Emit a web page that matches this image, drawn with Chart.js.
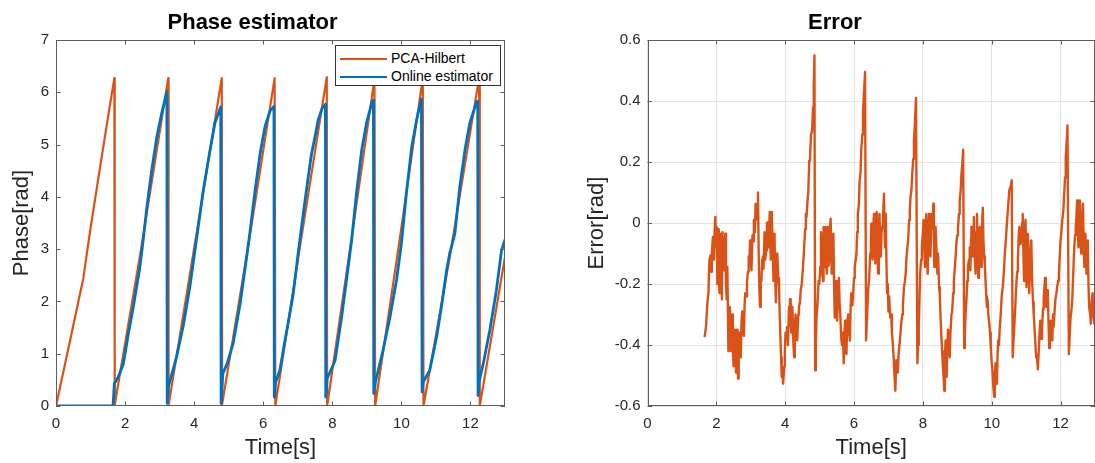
<!DOCTYPE html>
<html>
<head>
<meta charset="utf-8">
<script src="https://cdn.jsdelivr.net/npm/chart.js@4.4.1/dist/chart.umd.min.js"></script>
<style>
  html, body { margin: 0; padding: 0; background: #fff; }
  body { width: 1095px; height: 463px; position: relative; overflow: hidden; font-family: "Liberation Sans", Arial, sans-serif; }
  .panel { position: absolute; top: 0; }
  #legend { position: absolute; left: 335px; top: 45px; width: 164px; height: 39px; border: 1px solid #333; background: #fff; font-size: 14px; color: #000; }
  #legend .row { position: absolute; left: 4px; height: 18px; line-height: 18px; white-space: nowrap; }
  #legend .sw { display: inline-block; width: 47px; vertical-align: middle; margin-right: 4px; }
</style>
</head>
<body>
<div class="panel" style="left:0px"><canvas id="phase" width="530" height="463"></canvas></div>
<div class="panel" style="left:575px"><canvas id="err" width="520" height="463"></canvas></div>
<div id="legend"></div>
<script>
// PCA-Hilbert phase (orange)
const pcaTime = [0, 0.40, 0.79, 0.99, 1.28, 1.50, 1.69, 1.70, 2.45, 3.25, 3.26, 4.02, 4.80, 4.81, 5.58, 6.33,
  6.35, 7.10, 7.84, 7.85, 8.55, 9.22, 9.24, 9.95, 10.62, 10.64, 11.40, 12.25, 12.27, 13.00];
const pcaPhase = [0, 1.23, 2.44, 3.36, 4.58, 5.50, 6.27, 0.02, 2.95, 6.27, 0.02, 3.10, 6.27, 0.03, 3.12, 6.27,
  0.00, 3.20, 6.29, 0.00, 3.17, 6.25, 0.00, 3.18, 6.28, 0.00, 2.85, 6.27, 0.00, 2.85];

// online estimator phase (blue)
const onlineTime = [0, 1.65, 1.69, 1.80, 1.95, 2.10, 2.24, 2.43, 2.53, 2.63, 2.77, 2.92, 3.06, 3.21,
  3.22, 3.25, 3.49, 3.69, 3.88, 4.07, 4.27, 4.46, 4.60, 4.77,
  4.78, 4.83, 4.95, 5.13, 5.33, 5.52, 5.62, 5.76, 5.91, 6.05, 6.20, 6.31,
  6.32, 6.36, 6.48, 6.63, 6.72, 6.87, 7.01, 7.16, 7.29, 7.40, 7.50, 7.59, 7.71, 7.80,
  7.81, 7.85, 8.08, 8.27, 8.41, 8.56, 8.70, 8.85, 8.99, 9.14, 9.19,
  9.20, 9.24, 9.47, 9.67, 9.86, 10.00, 10.15, 10.30, 10.44, 10.58,
  10.60, 10.63, 10.82, 11.02, 11.16, 11.31, 11.40, 11.55, 11.69, 11.84, 11.98, 12.18, 12.21,
  12.22, 12.25, 12.37, 12.56, 12.75, 12.90, 13.00];
const onlinePhase = [0, 0, 0.43, 0.55, 0.81, 1.40, 1.90, 2.66, 3.20, 3.80, 4.50, 5.15, 5.60, 6.01,
  0.05, 0.36, 0.94, 1.55, 2.30, 3.20, 4.15, 4.89, 5.41, 5.72,
  0.05, 0.62, 0.80, 1.20, 1.95, 2.85, 3.35, 4.10, 4.83, 5.34, 5.65, 5.73,
  0.17, 0.46, 0.68, 1.26, 1.58, 2.15, 2.92, 3.68, 4.32, 4.83, 5.15, 5.47, 5.70, 5.77,
  0.17, 0.52, 0.87, 1.70, 2.41, 3.17, 4.07, 4.89, 5.41, 5.79, 5.85,
  0.24, 0.43, 1.07, 1.70, 2.41, 3.10, 4.10, 4.96, 5.47, 5.87,
  0.27, 0.46, 0.68, 1.32, 1.90, 2.60, 2.92, 3.30, 4.19, 4.89, 5.41, 5.82, 5.83,
  0.20, 0.46, 0.81, 1.45, 2.21, 2.98, 3.18];

// phase error [time, rad]
const errorSeries = [
  [1.66, -0.374], [1.70, -0.34], [1.74, -0.26], [1.77, -0.23], [1.80, -0.12], [1.83, -0.106], [1.85, -0.16], [1.87, -0.10],
  [1.90, -0.046], [1.93, -0.12], [1.95, -0.03], [1.97, 0.02], [1.99, -0.08], [2.01, -0.013], [2.03, -0.20], [2.04, -0.144],
  [2.05, -0.02], [2.07, -0.16], [2.09, -0.23], [2.11, -0.05], [2.13, -0.035], [2.15, -0.21], [2.16, -0.25], [2.18, -0.03],
  [2.20, -0.12], [2.22, -0.05], [2.23, -0.155], [2.26, -0.035], [2.28, -0.20], [2.30, -0.25], [2.32, -0.144], [2.35, -0.42],
  [2.37, -0.33], [2.39, -0.275], [2.41, -0.38], [2.42, -0.42], [2.44, -0.32], [2.46, -0.30], [2.48, -0.40], [2.50, -0.47],
  [2.52, -0.36], [2.54, -0.35], [2.56, -0.44], [2.57, -0.49], [2.59, -0.38], [2.60, -0.35], [2.62, -0.47], [2.63, -0.51],
  [2.65, -0.40], [2.67, -0.36], [2.69, -0.44], [2.71, -0.43], [2.73, -0.33], [2.75, -0.29], [2.78, -0.36], [2.80, -0.37],
  [2.82, -0.27], [2.84, -0.23], [2.87, -0.24], [2.89, -0.19], [2.92, -0.16], [2.94, -0.11], [2.96, -0.13], [2.98, -0.057],
  [3.00, -0.12], [3.02, -0.155], [3.05, -0.04], [3.07, -0.06], [3.09, 0.01], [3.12, -0.03], [3.14, 0.063], [3.17, 0.05],
  [3.19, 0.01], [3.21, 0.10], [3.23, -0.10], [3.25, -0.22], [3.27, -0.275], [3.29, -0.18], [3.31, -0.19], [3.33, -0.12],
  [3.35, -0.11], [3.37, -0.15], [3.40, -0.03], [3.42, -0.12], [3.45, -0.09], [3.47, 0.00], [3.50, 0.003], [3.52, -0.08],
  [3.55, 0.036], [3.57, -0.05], [3.58, -0.12], [3.60, 0.02], [3.61, 0.036], [3.63, -0.05], [3.64, -0.10], [3.66, -0.19],
  [3.68, -0.06], [3.69, -0.035], [3.71, -0.18], [3.73, -0.26], [3.75, -0.12], [3.77, -0.10], [3.80, -0.18], [3.82, -0.21],
  [3.85, -0.34], [3.88, -0.44], [3.90, -0.505], [3.92, -0.48], [3.94, -0.527], [3.97, -0.47], [3.99, -0.42], [4.01, -0.36],
  [4.04, -0.38], [4.06, -0.34], [4.08, -0.40], [4.11, -0.275], [4.13, -0.30], [4.14, -0.25], [4.16, -0.33], [4.18, -0.36],
  [4.20, -0.30], [4.21, -0.275], [4.24, -0.40], [4.26, -0.44], [4.28, -0.34], [4.30, -0.30], [4.33, -0.36], [4.35, -0.385],
  [4.38, -0.30], [4.40, -0.275], [4.43, -0.26], [4.45, -0.22], [4.48, -0.20], [4.51, -0.155], [4.53, -0.12], [4.55, -0.08],
  [4.58, -0.02], [4.60, 0.03], [4.62, 0.02], [4.65, 0.074], [4.67, 0.10], [4.70, 0.205], [4.72, 0.21], [4.75, 0.29],
  [4.78, 0.30], [4.81, 0.38], [4.83, 0.45], [4.85, 0.55], [4.87, -0.483], [4.89, -0.40], [4.91, -0.31], [4.94, -0.26],
  [4.97, -0.19], [4.99, -0.20], [5.02, -0.144], [5.04, -0.03], [5.05, -0.046], [5.07, -0.16], [5.10, -0.19], [5.11, -0.02],
  [5.12, -0.013], [5.14, -0.144], [5.15, -0.05], [5.17, -0.013], [5.19, -0.13], [5.21, -0.166], [5.23, -0.03], [5.24, -0.013],
  [5.26, -0.14], [5.28, -0.12], [5.30, -0.02], [5.32, 0.014], [5.34, -0.10], [5.35, -0.166], [5.38, -0.04], [5.40, -0.035],
  [5.42, -0.20], [5.44, -0.31], [5.46, -0.20], [5.48, -0.19], [5.50, -0.30], [5.51, -0.32], [5.54, -0.20], [5.56, -0.18],
  [5.58, -0.26], [5.60, -0.30], [5.63, -0.38], [5.65, -0.40], [5.68, -0.36], [5.70, -0.46], [5.72, -0.36], [5.74, -0.32],
  [5.76, -0.40], [5.78, -0.43], [5.80, -0.33], [5.83, -0.30], [5.86, -0.36], [5.88, -0.385], [5.90, -0.28], [5.92, -0.23],
  [5.95, -0.27], [5.97, -0.24], [6.00, -0.18], [6.02, -0.144], [6.05, -0.12], [6.07, -0.10], [6.09, -0.03], [6.11, 0.03],
  [6.14, 0.06], [6.16, 0.13], [6.19, 0.17], [6.21, 0.24], [6.24, 0.29], [6.26, 0.36], [6.29, 0.43], [6.32, 0.495],
  [6.35, -0.385], [6.38, -0.30], [6.41, -0.22], [6.44, -0.18], [6.47, -0.10], [6.49, -0.05], [6.50, -0.002], [6.52, -0.09],
  [6.54, -0.12], [6.56, -0.01], [6.58, 0.03], [6.60, -0.08], [6.62, -0.133], [6.64, -0.02], [6.66, 0.036], [6.68, -0.09],
  [6.70, -0.166], [6.72, -0.03], [6.74, 0.03], [6.76, -0.07], [6.78, -0.11], [6.80, -0.03], [6.82, -0.013], [6.84, 0.02],
  [6.87, 0.096], [6.89, -0.04], [6.90, -0.08], [6.92, 0.03], [6.94, -0.12], [6.96, -0.23], [6.98, -0.20], [7.00, -0.29],
  [7.02, -0.24], [7.05, -0.31], [7.08, -0.30], [7.10, -0.36], [7.13, -0.40], [7.15, -0.44], [7.17, -0.49], [7.20, -0.55],
  [7.23, -0.45], [7.25, -0.47], [7.27, -0.49], [7.30, -0.42], [7.32, -0.40], [7.35, -0.36], [7.37, -0.33], [7.40, -0.30],
  [7.42, -0.27], [7.45, -0.21], [7.48, -0.19], [7.50, -0.166], [7.52, -0.12], [7.54, -0.09], [7.57, -0.06], [7.60, 0.01],
  [7.62, 0.04], [7.64, 0.085], [7.67, 0.11], [7.69, 0.16], [7.72, 0.21], [7.74, 0.27], [7.77, 0.33], [7.80, 0.41],
  [7.84, -0.46], [7.86, -0.40], [7.88, -0.33], [7.90, -0.26], [7.92, -0.166], [7.95, -0.12], [7.97, -0.08], [8.00, -0.03],
  [8.02, 0.01], [8.04, -0.08], [8.06, -0.144], [8.08, -0.02], [8.10, 0.03], [8.12, -0.10], [8.14, -0.166], [8.16, -0.03],
  [8.18, 0.03], [8.20, -0.06], [8.22, -0.11], [8.24, -0.01], [8.26, 0.03], [8.28, -0.02], [8.30, 0.063], [8.32, -0.05],
  [8.33, -0.144], [8.35, -0.05], [8.37, -0.013], [8.40, -0.10], [8.42, -0.166], [8.44, -0.10], [8.47, -0.21], [8.49, -0.23],
  [8.51, -0.30], [8.54, -0.38], [8.56, -0.42], [8.58, -0.47], [8.60, -0.50], [8.62, -0.55], [8.64, -0.44], [8.66, -0.385],
  [8.68, -0.46], [8.69, -0.505], [8.71, -0.40], [8.73, -0.35], [8.76, -0.42], [8.78, -0.44], [8.80, -0.36], [8.83, -0.30],
  [8.85, -0.29], [8.88, -0.23], [8.90, -0.19], [8.93, -0.144], [8.95, -0.11], [8.98, -0.057], [9.00, -0.04], [9.02, -0.013],
  [9.05, 0.03], [9.07, 0.074], [9.10, 0.11], [9.12, 0.16], [9.15, 0.20], [9.17, 0.24], [9.20, -0.41], [9.22, -0.36],
  [9.24, -0.30], [9.27, -0.24], [9.29, -0.19], [9.31, -0.14], [9.34, -0.12], [9.36, -0.08], [9.38, -0.155], [9.40, -0.05],
  [9.41, -0.013], [9.43, -0.09], [9.45, -0.11], [9.47, -0.01], [9.48, 0.02], [9.50, -0.10], [9.53, -0.166], [9.55, -0.03],
  [9.57, 0.03], [9.59, -0.10], [9.61, -0.18], [9.63, -0.06], [9.65, -0.013], [9.67, -0.09], [9.69, -0.144], [9.71, -0.03],
  [9.74, 0.05], [9.76, -0.06], [9.78, -0.11], [9.80, -0.14], [9.82, -0.19], [9.84, -0.24], [9.86, -0.275], [9.88, -0.25],
  [9.90, -0.30], [9.93, -0.33], [9.95, -0.36], [9.97, -0.40], [10.00, -0.46], [10.02, -0.48], [10.04, -0.527], [10.07, -0.57],
  [10.09, -0.50], [10.11, -0.46], [10.13, -0.50], [10.15, -0.527], [10.17, -0.43], [10.19, -0.385], [10.21, -0.40], [10.23, -0.35],
  [10.26, -0.30], [10.29, -0.24], [10.32, -0.21], [10.35, -0.166], [10.38, -0.10], [10.41, -0.057], [10.43, -0.02], [10.46, 0.03],
  [10.48, 0.06], [10.51, 0.107], [10.55, 0.12], [10.58, 0.14], [10.61, -0.44], [10.63, -0.39], [10.66, -0.33], [10.69, -0.26],
  [10.72, -0.19], [10.74, -0.16], [10.76, -0.12], [10.78, -0.05], [10.80, -0.013], [10.83, -0.07], [10.86, -0.057], [10.88, 0.00],
  [10.90, 0.03], [10.92, -0.10], [10.94, -0.19], [10.96, -0.05], [10.98, 0.01], [11.00, -0.12], [11.01, -0.21], [11.03, -0.08],
  [11.05, -0.035], [11.07, -0.14], [11.09, -0.23], [11.12, -0.10], [11.15, -0.057], [11.17, -0.18], [11.20, -0.26], [11.22, -0.30],
  [11.25, -0.36], [11.27, -0.40], [11.29, -0.44], [11.31, -0.43], [11.34, -0.48], [11.37, -0.41], [11.39, -0.36], [11.41, -0.32],
  [11.44, -0.38], [11.46, -0.35], [11.49, -0.28], [11.51, -0.25], [11.53, -0.21], [11.55, -0.18], [11.57, -0.24], [11.58, -0.275],
  [11.61, -0.22], [11.63, -0.23], [11.65, -0.33], [11.67, -0.41], [11.69, -0.36], [11.71, -0.32], [11.74, -0.38], [11.76, -0.385],
  [11.78, -0.30], [11.80, -0.34], [11.83, -0.28], [11.85, -0.25], [11.88, -0.23], [11.90, -0.21], [11.93, -0.19], [11.95, -0.166],
  [11.98, -0.10], [12.00, -0.057], [12.03, -0.02], [12.05, 0.01], [12.08, 0.04], [12.10, 0.085], [12.13, 0.15], [12.15, 0.216],
  [12.18, 0.27], [12.20, 0.32], [12.24, -0.43], [12.27, -0.36], [12.29, -0.31], [12.32, -0.28], [12.34, -0.25], [12.37, -0.16],
  [12.39, -0.10], [12.42, -0.04], [12.44, -0.013], [12.46, 0.02], [12.48, 0.074], [12.50, -0.02], [12.52, -0.08], [12.54, 0.03],
  [12.56, 0.074], [12.58, -0.04], [12.60, -0.10], [12.62, 0.00], [12.65, 0.063], [12.67, -0.06], [12.69, -0.144], [12.70, -0.05],
  [12.72, -0.035], [12.74, -0.12], [12.75, -0.166], [12.77, -0.08], [12.79, -0.057], [12.81, -0.20], [12.83, -0.275], [12.86, -0.30],
  [12.88, -0.33], [12.90, -0.26], [12.93, -0.23], [12.95, -0.30], [12.98, -0.33], [13.00, -0.29]
];

const ORANGE = "#D95319";
const BLUE = "#0072BD";
const AXIS = "#5e5e5e";
const TEXT = "#262626";
const FONT = "'Liberation Sans', Arial, Helvetica, sans-serif";

const pairs = (xs, ys) => xs.map((x, i) => ({ x: x, y: ys[i] }));

// MATLAB-like box with inward tick marks
const boxTicks = {
  id: "boxTicks",
  afterDraw(chart) {
    const { ctx, chartArea: a, scales: { x, y } } = chart;
    const len = 4.5;
    ctx.save();
    ctx.strokeStyle = AXIS;
    ctx.lineWidth = 1;
    ctx.strokeRect(Math.round(a.left) + 0.5, Math.round(a.top) + 0.5,
      Math.round(a.right) - Math.round(a.left) - 1, Math.round(a.bottom) - Math.round(a.top) - 1);
    ctx.beginPath();
    x.ticks.forEach(t => {
      const px = Math.round(x.getPixelForValue(t.value)) + 0.5;
      ctx.moveTo(px, a.bottom); ctx.lineTo(px, a.bottom - len);
      ctx.moveTo(px, a.top); ctx.lineTo(px, a.top + len);
    });
    y.ticks.forEach(t => {
      const py = Math.round(y.getPixelForValue(t.value)) + 0.5;
      ctx.moveTo(a.left, py); ctx.lineTo(a.left + len, py);
      ctx.moveTo(a.right, py); ctx.lineTo(a.right - len, py);
    });
    ctx.stroke();
    ctx.restore();
  }
};

function axes(opts) {
  return {
    x: {
      type: "linear", min: 0, max: 13,
      grid: { display: opts.grid, color: "#e3e3e3", drawTicks: false },
      border: { display: false },
      ticks: { stepSize: 2, includeBounds: false, padding: 9, color: TEXT, font: { family: FONT, size: 15 } },
      title: { display: true, text: "Time[s]", color: TEXT, font: { family: FONT, size: 22 }, padding: { top: 0, bottom: 2 } },
      afterFit: s => { s.height = 57; }
    },
    y: {
      min: opts.min, max: opts.max,
      grid: { display: opts.grid, color: "#e3e3e3", drawTicks: false },
      border: { display: false },
      ticks: { stepSize: opts.step, padding: 7, color: TEXT, font: { family: FONT, size: 15 } },
      title: { display: true, text: opts.ylabel, color: TEXT, font: { family: FONT, size: 22 }, padding: { top: 9, bottom: 0 } },
      afterFit: s => { s.width = opts.yw; }
    }
  };
}

function titleOpts(text) {
  return { display: true, text: text, color: "#000", font: { family: FONT, size: 22, weight: "bold" }, padding: { top: 10, bottom: 3.6 } };
}

const phaseChart = new Chart(document.getElementById("phase"), {
  type: "line",
  data: {
    datasets: [
      { label: "PCA-Hilbert", data: pairs(pcaTime, pcaPhase), borderColor: ORANGE, borderWidth: 2.2, order: 2 },
      { label: "Online estimator", data: pairs(onlineTime, onlinePhase), borderColor: BLUE, borderWidth: 2.8, order: 1 }
    ]
  },
  options: {
    responsive: false, animation: false, devicePixelRatio: 1,
    layout: { padding: { left: 0, right: 25, top: 0, bottom: 0 } },
    elements: { point: { radius: 0 }, line: { tension: 0, borderJoinStyle: "round" } },
    plugins: { legend: { display: false }, tooltip: { enabled: false }, title: titleOpts("Phase estimator") },
    scales: axes({ min: 0, max: 7, step: 1, ylabel: "Phase[rad]", yw: 56, grid: false })
  },
  plugins: [boxTicks]
});

new Chart(document.getElementById("err"), {
  type: "line",
  data: {
    datasets: [
      { label: "Error", data: errorSeries.map(p => ({ x: p[0], y: p[1] })), borderColor: ORANGE, borderWidth: 2.4 }
    ]
  },
  options: {
    responsive: false, animation: false, devicePixelRatio: 1,
    layout: { padding: 0 },
    elements: { point: { radius: 0 }, line: { tension: 0, borderJoinStyle: "round" } },
    plugins: { legend: { display: false }, tooltip: { enabled: false }, title: titleOpts("Error") },
    scales: axes({ min: -0.6, max: 0.6, step: 0.2, ylabel: "Error[rad]", yw: 72.5, grid: true })
  },
  plugins: [boxTicks]
});

// legend box inside the phase axes, built from the datasets
const legend = document.getElementById("legend");
phaseChart.data.datasets.forEach((ds, i) => {
  const row = document.createElement("div");
  row.className = "row";
  row.style.top = (3 + i * 18) + "px";
  row.innerHTML = '<span class="sw" style="border-top:' + ds.borderWidth + 'px solid ' + ds.borderColor + '"></span>' + ds.label;
  legend.appendChild(row);
});
</script>
</body>
</html>
